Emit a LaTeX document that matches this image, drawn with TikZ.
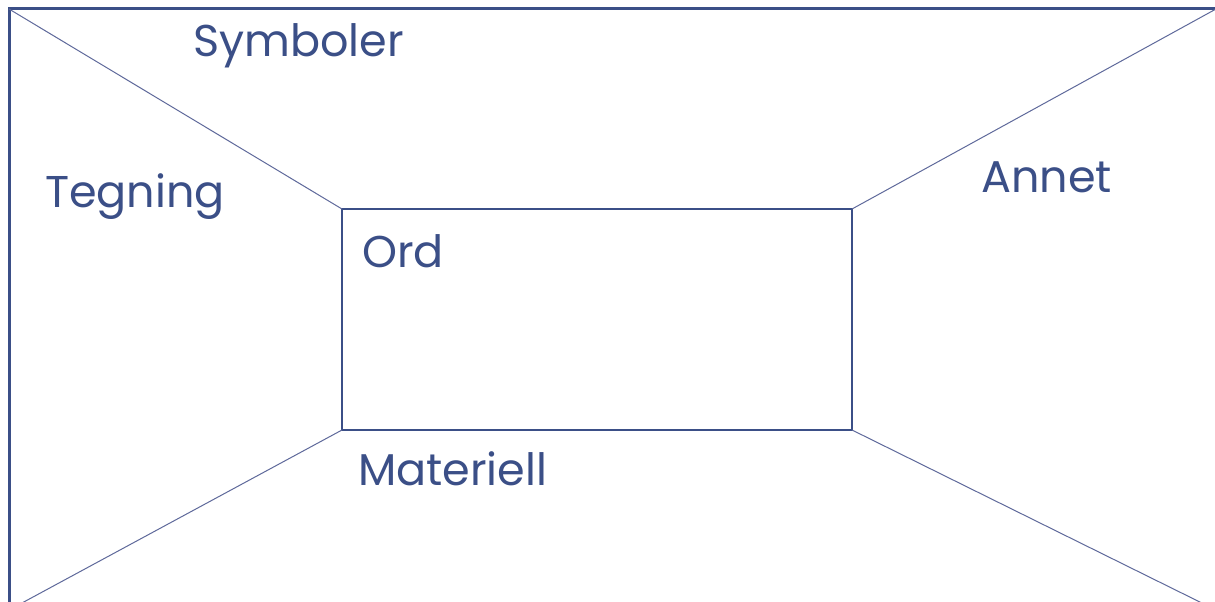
\documentclass[tikz,border=0pt]{standalone}
\usepackage{fontspec}
\setmainfont{Poppins}
\definecolor{ink}{RGB}{59,79,135}
\definecolor{thinline}{RGB}{95,105,155}
\begin{document}
\begin{tikzpicture}[x=1pt,y=-1pt,
  lbl/.style={anchor=base west,inner sep=0pt,text=ink,font=\fontsize{44.5}{50}\selectfont},
  frame/.style={draw=ink,line width=3pt},
  diag/.style={draw=thinline,line width=1pt},
  inner box/.style={draw=ink,line width=2.3pt,minimum width=510pt,minimum height=221pt,inner sep=0pt,outer sep=0pt,anchor=north west}]
\useasboundingbox (0,0) rectangle (1215,602);
\clip (0,0) rectangle (1215,602);
\fill[white] (0,0) rectangle (1215,602);
\coordinate (otl) at (9,9);
\coordinate (otr) at (1216,9);
\coordinate (obl) at (9,610);
\coordinate (obr) at (1216,610);
\draw[frame] (otl) -- (otr) -- (obr) -- (obl) -- cycle;
\node[inner box] (box) at (342,209) {};
\draw[diag] (otl) -- (box.north west);
\draw[diag] (otr) -- (box.north east);
\draw[diag] (obl) -- (box.south west);
\draw[diag] (obr) -- (box.south east);
\node[lbl] (sym) at (193,57) {Symboler};
\node[lbl] (teg) at (45,207) {Tegning};
\node[lbl] (ann) at (981,192) {Annet};
\node[lbl] (ord) at (362,267) {Ord};
\node[lbl] (mat) at (358,485) {Materiell};
\end{tikzpicture}
\end{document}
